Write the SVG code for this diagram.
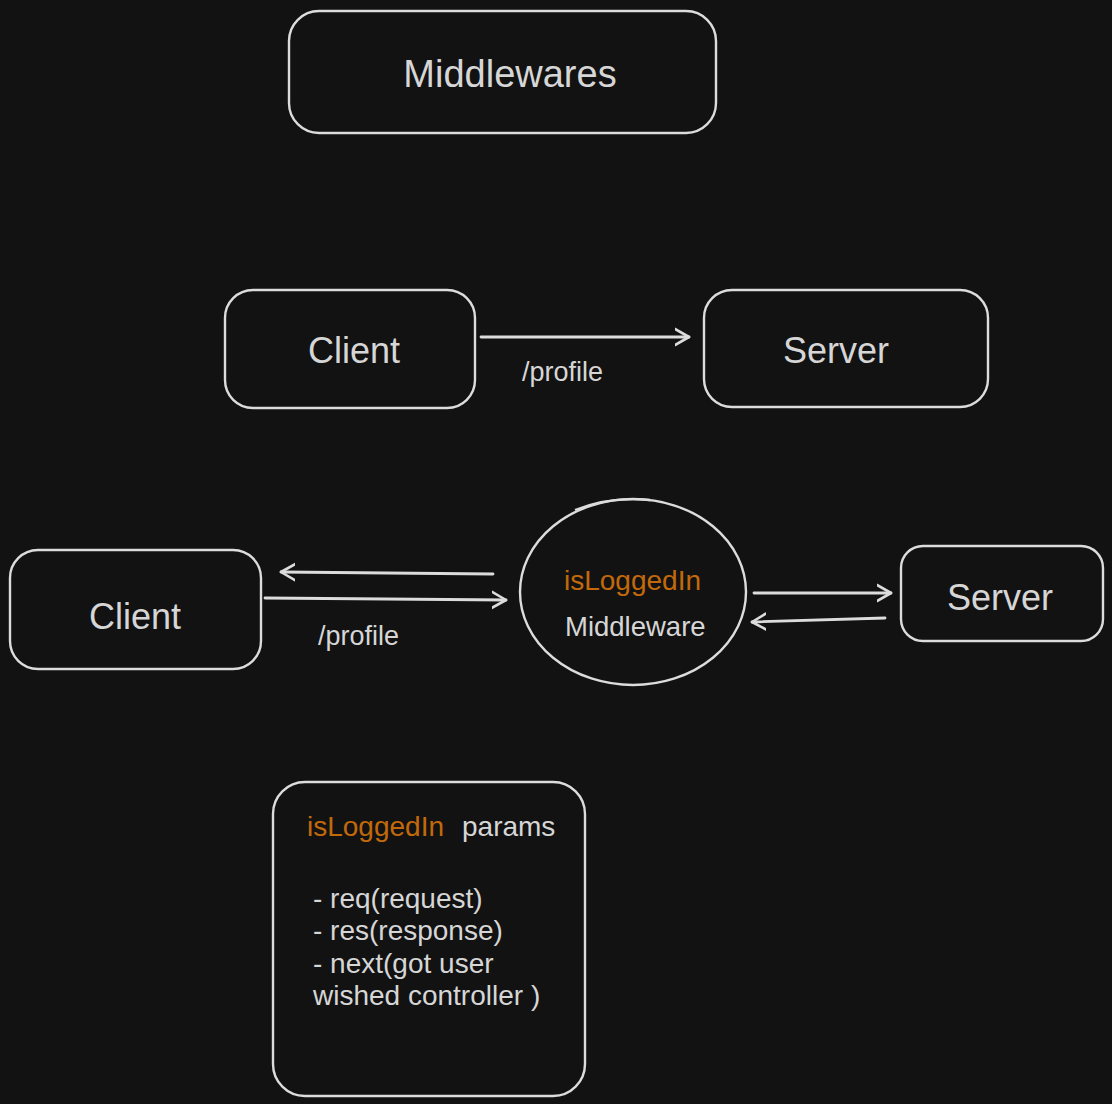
<svg xmlns="http://www.w3.org/2000/svg" width="1112" height="1104" viewBox="0 0 1112 1104">
<style>
.box{fill:none;stroke:#dcdcdc;stroke-width:2.4}
.edge{fill:none;stroke:#dcdcdc;stroke-width:2.8;stroke-linecap:round}
.t{font-family:"Liberation Sans",Arial,sans-serif;fill:#d6d6d6}
.o{fill:#c2690c}
</style>
<defs>
<marker id="arr" markerUnits="userSpaceOnUse" markerWidth="30" markerHeight="30" refX="14" refY="10" orient="auto" viewBox="0 0 30 20">
<path d="M0,2 L14,10 L0,18" fill="none" stroke="#dcdcdc" stroke-width="2.6" stroke-linecap="round" stroke-linejoin="round"/>
</marker>
</defs>
<rect width="1112" height="1104" fill="#121212"/>
<g id="title">
<rect class="box" x="289" y="11" width="427" height="122" rx="30"/>
<text class="t" x="510" y="87" font-size="38" text-anchor="middle">Middlewares</text>
</g>
<g id="client1">
<rect class="box" x="225" y="290" width="250" height="118" rx="28"/>
<text class="t" x="354" y="363" font-size="36" text-anchor="middle">Client</text>
</g>
<g id="server1">
<rect class="box" x="704" y="290" width="284" height="117" rx="28"/>
<text class="t" x="836" y="363" font-size="36" text-anchor="middle">Server</text>
</g>
<g id="client2">
<rect class="box" x="10" y="550" width="251" height="119" rx="28"/>
<text class="t" x="135" y="629" font-size="36" text-anchor="middle">Client</text>
</g>
<g id="middleware">
<ellipse class="box" cx="633" cy="592" rx="113" ry="93"/>
<path class="box" d="M575,510 Q610,496 650,500" stroke-width="1.2"/>
<text class="t o" x="564" y="590" font-size="28">isLoggedIn</text>
<text class="t" x="565" y="636" font-size="27.5">Middleware</text>
</g>
<g id="server2">
<rect class="box" x="901" y="546" width="202" height="95" rx="22"/>
<text class="t" x="1000" y="610" font-size="36" text-anchor="middle">Server</text>
</g>
<g id="params">
<rect class="box" x="273" y="782" width="312" height="314" rx="32"/>
<text class="t o" x="307" y="836" font-size="28">isLoggedIn</text>
<text class="t" x="462" y="836" font-size="28">params</text>
<text class="t" x="313" y="908" font-size="28">- req(request)</text>
<text class="t" x="313" y="940" font-size="28">- res(response)</text>
<text class="t" x="313" y="973" font-size="28">- next(got user</text>
<text class="t" x="313" y="1005" font-size="28">wished controller )</text>
</g>
<g id="connectors">
<path class="edge" d="M481,337 L689,337" marker-end="url(#arr)"/>
<path class="edge" d="M493,574 L281,572" marker-end="url(#arr)"/>
<path class="edge" d="M265,598 L506,600" marker-end="url(#arr)"/>
<path class="edge" d="M754,593 L891,593" marker-end="url(#arr)"/>
<path class="edge" d="M885,618 L752,622" marker-end="url(#arr)"/>
</g>
<g id="labels">
<text class="t" x="522" y="381" font-size="27">/profile</text>
<text class="t" x="318" y="645" font-size="27">/profile</text>
</g>
</svg>
